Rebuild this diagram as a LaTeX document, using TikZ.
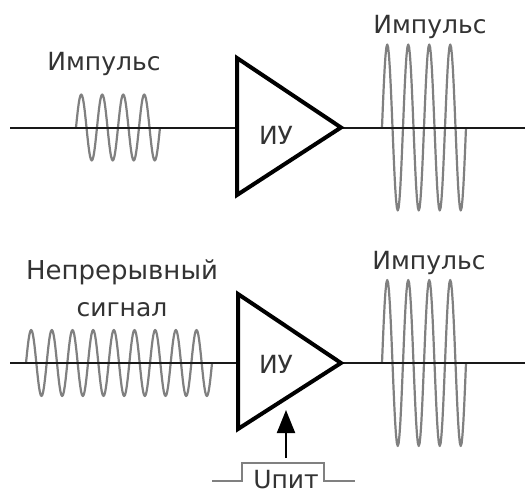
\documentclass[tikz,border=0pt]{standalone}
\usepackage{fontspec}
\setmainfont{DejaVu Sans}
\usetikzlibrary{arrows.meta}
\newcommand{\burst}[5]{% x0, cy, amp, period, periods
  \draw[wavepath] plot[domain=0:#4*#5,samples=#5*24+1] ({#1+\x},{#2-#3*sin(360/#4*\x)});
}
\tikzset{
  wavepath/.style={draw=black!50,line width=2.2pt,line join=round},
  wire/.style={draw=black!90,line width=2pt},
  amp/.style={draw=black,line width=4pt,miter limit=10,line join=miter},
  lbl/.style={text=black!80,font=\fontsize{25}{30}\selectfont,inner sep=0pt},
  wide/.style={font=\fontsize{26}{31}\selectfont},
  feed/.style={draw=black,line width=2pt,-{Triangle[length=23pt,width=18pt]}},
  gate/.style={draw=black!50,line width=2pt},
}
\begin{document}
\begin{tikzpicture}[x=1pt,y=-1pt]
\useasboundingbox[fill=white] (0,0) rectangle (525,495);
% top row
\burst{76}{127.5}{33}{21}{4}
\burst{382}{127.5}{83}{21}{4}
\coordinate (a1) at (237,58);
\coordinate (b1) at (237,195);
\coordinate (t1) at (341,127.5);
\coordinate (in1) at (10,127.5);
\coordinate (out1) at (525,127.5);
\coordinate (im1) at (237,127.5);
\draw[wire] (in1) -- (im1);
\draw[wire] (t1) -- (out1);
\draw[amp] (a1) -- (t1) -- (b1) -- cycle;
\node[lbl] (amp1) at (276,135) {ИУ};
\node[lbl] (p1) at (104,64) {Импульс};
\node[lbl] (p2) at (430,27) {Импульс};
% bottom row
\burst{26}{363}{33}{20.67}{9}
\burst{382}{363}{83}{21}{4}
\coordinate (a2) at (238,294);
\coordinate (b2) at (238,429);
\coordinate (t2) at (341,363);
\coordinate (in2) at (10,363);
\coordinate (out2) at (525,363);
\coordinate (im2) at (238,363);
\draw[wire] (in2) -- (im2);
\draw[wire] (t2) -- (out2);
\draw[amp] (a2) -- (t2) -- (b2) -- cycle;
\node[lbl] (amp2) at (276,364) {ИУ};
\node[lbl,wide] (p3) at (122,272) {Непрерывный};
\node[lbl] (p4) at (122,310) {сигнал};
\node[lbl] (p5) at (429,263) {Импульс};
% supply pulse
\coordinate (fa) at (286,458);
\coordinate (fb) at (286,410);
\draw[feed] (fa) -- (fb);
\coordinate (g0) at (212,481);
\coordinate (g1) at (242,481);
\coordinate (g2) at (242,463);
\coordinate (g3) at (324,463);
\coordinate (g4) at (324,481);
\coordinate (g5) at (355,481);
\draw[gate] (g0) -- (g1) -- (g2) -- (g3) -- (g4) -- (g5);
\node[lbl] (u) at (286,480) {Uпит};
\end{tikzpicture}
\end{document}
